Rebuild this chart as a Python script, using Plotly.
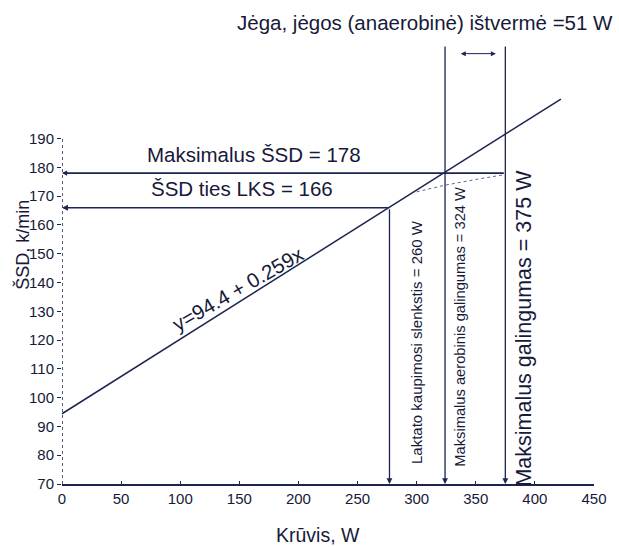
import plotly.graph_objects as go

# ---- data ----
load_line = [0, 422]            # W
hr_line = [94.4, 203.7]         # ŠSD, k/min  (y = 94.4 + 0.259x)
max_hr = 178
lks_hr = 166
lks_load = 277
mag_load = 324                  # maksimalus aerobinis galingumas
max_load = 375                  # maksimalus galingumas
dotted_x = [300, 324, 350, 375]
dotted_y = [171.5, 173.8, 175.8, 177.5]
x_ticks = [0, 50, 100, 150, 200, 250, 300, 350, 400, 450]
y_ticks = [70, 80, 90, 100, 110, 120, 130, 140, 150, 160, 170, 180, 190]

NAVY = "#1c2452"
TXT = "#17193a"
FONT = "Liberation Sans, Arial, sans-serif"
NARROW = "Liberation Sans Narrow, Liberation Sans, Arial, sans-serif"
Y_TOP = 222.5

fig = go.Figure()
fig.add_trace(go.Scatter(x=load_line, y=hr_line, mode="lines",
                         line=dict(color=NAVY, width=1.5), showlegend=False, hoverinfo="skip"))
fig.add_trace(go.Scatter(x=dotted_x, y=dotted_y, mode="lines",
                         line=dict(color="#5a6690", width=1, dash="dot"), showlegend=False, hoverinfo="skip"))

# y-axis line (only up to 190)
fig.add_shape(type="line", x0=0, x1=0, y0=70, y1=190, xref="x", yref="y",
              line=dict(color=NAVY, width=1.5, dash="dot"))

ann = []
def arrow(xh, yh, xt, yt, side="end", w=1.3, size=0.9):
    ann.append(dict(x=xh, y=yh, ax=xt, ay=yt, xref="x", yref="y", axref="x", ayref="y",
                    text="", showarrow=True, arrowhead=2, arrowsize=size, arrowwidth=w,
                    arrowcolor=NAVY, arrowside=side))

arrow(0, max_hr, max_load, max_hr, w=1.7, size=0.6)
arrow(0, lks_hr, lks_load, lks_hr, w=1.5, size=0.8)
arrow(lks_load, 70, lks_load, lks_hr)
arrow(mag_load, 70, mag_load, Y_TOP)
arrow(max_load, 70, max_load, Y_TOP)
arrow(367, 219.5, 336, 219.5, side="end+start", w=1, size=1)

def text(t, x, y, size, angle=0, font=FONT):
    ann.append(dict(x=x, y=y, xref="x", yref="y", text=t, showarrow=False, textangle=angle,
                    xanchor="center", yanchor="middle",
                    font=dict(family=font, size=size, color=TXT)))

text("Maksimalus ŠSD = 178", 162, 184.6, 20.5)
text("ŠSD ties LKS = 166", 152, 172.8, 20.5)
text("y=94.4 + 0.259x", 149, 138, 20.5, angle=-30)
text("Laktato kaupimosi slenkstis = 260 W", 300, 119.2, 15, angle=-90, font=NARROW)
text("Maksimalus aerobinis galingumas = 324 W", 337, 124.8, 14.7, angle=-90, font=NARROW)
text("Maksimalus galingumas = 375 W", 390, 124, 21.5, angle=-90)

def ptext(t, x, y, size, angle=0):
    ann.append(dict(x=x, y=y, xref="paper", yref="paper", showarrow=False, textangle=angle,
                    xanchor="center", yanchor="middle", text=t,
                    font=dict(family=FONT, size=size, color=TXT)))

ptext("Jėga, jėgos (anaerobinė) ištvermė =51 W", 0.682, 1.052, 20.5)
ptext("ŠSD, k/min", -0.074, 0.544, 18, angle=-90)
ptext("Krūvis, W", 0.482, -0.116, 19.5)

fig.update_layout(
    width=619, height=547,
    margin=dict(l=62, r=18, t=45, b=63),
    paper_bgcolor="white", plot_bgcolor="white",
    annotations=ann,
    showlegend=False,
    xaxis=dict(range=[0, 450], tickvals=x_ticks, showgrid=False, zeroline=False,
               showline=True, linecolor=NAVY, linewidth=2, ticks="inside", ticklen=3,
               tickcolor=NAVY, tickfont=dict(family=FONT, size=15, color=TXT)),
    yaxis=dict(range=[70, Y_TOP], tickvals=y_ticks, showgrid=False, zeroline=False,
               showline=False, ticks="outside", ticklen=4, tickcolor=NAVY,
               tickfont=dict(family=FONT, size=15, color=TXT)),
)

fig.write_html("out.html")
